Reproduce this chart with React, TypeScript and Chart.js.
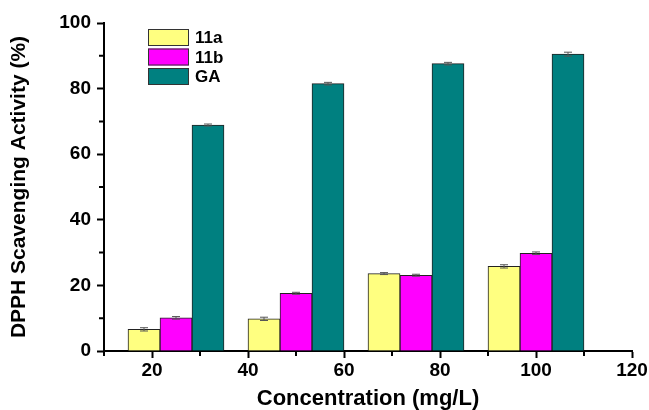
import React, { useEffect, useRef } from "react";
import { Chart, registerables } from "chart.js";

Chart.register(...registerables);

// Group centres on the concentration axis
const groupPositions = [25, 50, 75, 100];
const seriesNames = ["11a", "11b", "GA"];
const values11a = [6.6, 9.8, 23.6, 25.8];
const values11b = [10.1, 17.6, 23.1, 29.8];
const valuesGA = [68.9, 81.5, 87.6, 90.5];
const errors11a = [0.5, 0.5, 0.3, 0.5];
const errors11b = [0.4, 0.3, 0.3, 0.4];
const errorsGA = [0.3, 0.4, 0.4, 0.6];
const xMinorTicks = [10, 30, 50, 70, 90, 110];
const yMinorTicks = [10, 30, 50, 70, 90];

const seriesColors = ["#FFFF80", "#FF00FF", "#008080"];
const seriesValues = [values11a, values11b, valuesGA];
const seriesErrors = [errors11a, errors11b, errorsGA];

const FONT = "'Liberation Sans', Arial, Helvetica, sans-serif";

const errorBarPlugin = {
  id: "errorBars",
  afterDatasetsDraw(chart: any) {
    const ctx = chart.ctx;
    const yScale = chart.scales.y;
    chart.data.datasets.forEach((ds: any, di: number) => {
      const meta = chart.getDatasetMeta(di);
      const errs = seriesErrors[di];
      meta.data.forEach((bar: any, i: number) => {
        const v = ds.data[i].y;
        const e = errs[i];
        const x = bar.x;
        const yTop = yScale.getPixelForValue(v + e);
        const yBot = yScale.getPixelForValue(v - e);
        ctx.save();
        ctx.strokeStyle = "#555";
        ctx.lineWidth = 1;
        ctx.beginPath();
        ctx.moveTo(x, yTop);
        ctx.lineTo(x, yBot);
        ctx.moveTo(x - 4, yTop);
        ctx.lineTo(x + 4, yTop);
        ctx.moveTo(x - 4, yBot);
        ctx.lineTo(x + 4, yBot);
        ctx.stroke();
        ctx.restore();
      });
    });
  },
};

const minorTickPlugin = {
  id: "minorTicks",
  afterDraw(chart: any) {
    const ctx = chart.ctx;
    const { x, y } = chart.scales;
    const area = chart.chartArea;
    ctx.save();
    ctx.strokeStyle = "#000";
    ctx.lineWidth = 2;
    ctx.beginPath();
    xMinorTicks.forEach((v) => {
      const px = x.getPixelForValue(v);
      ctx.moveTo(px, area.bottom);
      ctx.lineTo(px, area.bottom + 5);
    });
    yMinorTicks.forEach((v) => {
      const py = y.getPixelForValue(v);
      ctx.moveTo(area.left, py);
      ctx.lineTo(area.left - 5, py);
    });
    ctx.stroke();
    ctx.restore();
  },
};

const legendPlugin = {
  id: "boxLegend",
  afterDraw(chart: any) {
    const ctx = chart.ctx;
    const area = chart.chartArea;
    const left = area.left + 44;
    const top = area.top + 6;
    const boxW = 41;
    const boxH = 17;
    const step = 19.5;
    ctx.save();
    ctx.font = `bold 17px ${FONT}`;
    ctx.textBaseline = "middle";
    ctx.textAlign = "left";
    seriesNames.forEach((name, i) => {
      const by = top + i * step;
      ctx.fillStyle = seriesColors[i];
      ctx.fillRect(left, by, boxW, boxH);
      ctx.strokeStyle = "#333";
      ctx.lineWidth = 1;
      ctx.strokeRect(left + 0.5, by + 0.5, boxW - 1, boxH - 1);
      ctx.fillStyle = "#000";
      ctx.fillText(name, left + boxW + 6, by + boxH / 2 + 1);
    });
    ctx.restore();
  },
};

export default function App() {
  const canvasRef = useRef<HTMLCanvasElement | null>(null);

  useEffect(() => {
    const canvas = canvasRef.current;
    if (!canvas) return;
    const chart = new Chart(canvas, {
      type: "bar",
      data: {
        datasets: seriesNames.map((name, i) => ({
          label: name,
          data: groupPositions.map((gx, j) => ({ x: gx, y: seriesValues[i][j] })),
          backgroundColor: seriesColors[i],
          borderColor: "#222",
          borderWidth: 1,
          barPercentage: 1,
          categoryPercentage: 1,
        })),
      },
      options: {
        responsive: false,
        animation: false,
        devicePixelRatio: 1,
        layout: { padding: { top: 23, right: 17, left: 0, bottom: 0 } },
        plugins: {
          legend: { display: false },
          tooltip: { enabled: false },
        },
        scales: {
          x: {
            type: "linear",
            min: 10,
            max: 120,
            offset: false,
            border: { display: true, color: "#000", width: 2 },
            grid: {
              offset: false,
              drawOnChartArea: false,
              drawTicks: true,
              tickLength: 7,
              tickWidth: 2,
              tickColor: "#000",
            },
            ticks: {
              stepSize: 20,
              includeBounds: false,
              maxRotation: 0,
              autoSkip: false,
              padding: 1,
              color: "#000",
              font: { family: FONT, size: 19, weight: "bold" },
            },
            title: {
              display: true,
              text: "Concentration (mg/L)",
              color: "#000",
              font: { family: FONT, size: 22, weight: "bold", lineHeight: 1 },
              padding: { top: 0, bottom: 0 },
            },
            afterFit: (s: any) => {
              s.height = 59;
            },
          },
          y: {
            min: 0,
            max: 100,
            border: { display: true, color: "#000", width: 2 },
            grid: {
              drawOnChartArea: false,
              drawTicks: true,
              tickLength: 7,
              tickWidth: 2,
              tickColor: "#000",
            },
            ticks: {
              stepSize: 20,
              padding: 6,
              color: "#000",
              font: { family: FONT, size: 19, weight: "bold" },
            },
            title: {
              display: true,
              text: "DPPH Scavenging Activity (%)",
              color: "#000",
              font: { family: FONT, size: 21, weight: "bold", lineHeight: 1.2 },
              padding: { top: 7, bottom: 0 },
            },
            afterFit: (s: any) => {
              s.width = 104;
            },
          },
        },
      },
      plugins: [errorBarPlugin, minorTickPlugin, legendPlugin],
    } as any);
    return () => chart.destroy();
  }, []);

  return (
    <div style={{ position: "fixed", left: 0, top: 0, width: 649, height: 410, background: "#fff" }}>
      <canvas ref={canvasRef} width={649} height={410} />
    </div>
  );
}
